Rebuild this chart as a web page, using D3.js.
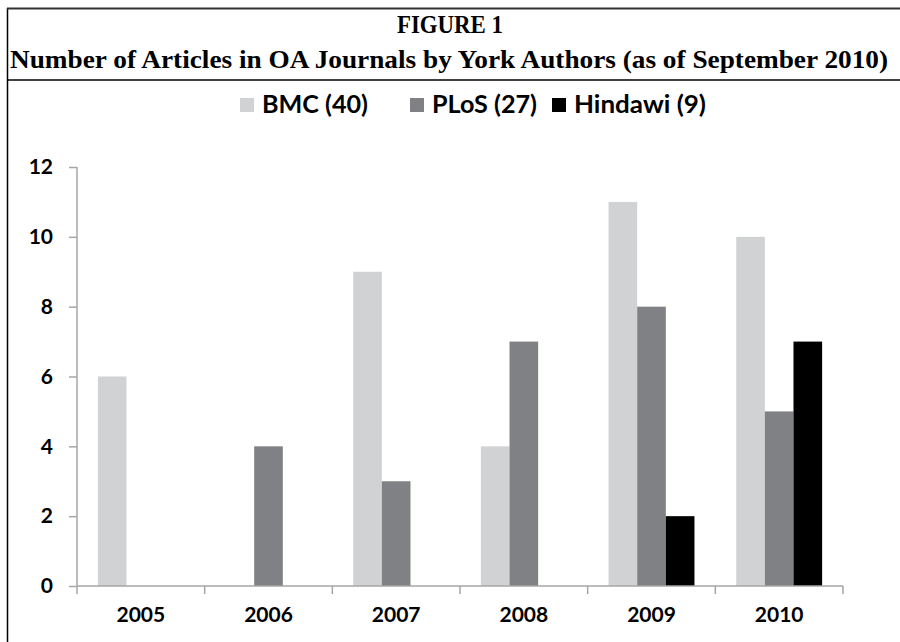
<!DOCTYPE html>
<html>
<head>
<meta charset="utf-8">
<script src="https://cdn.jsdelivr.net/npm/d3@7"></script>
<style>
  body { margin: 0; background: #fff; }
  svg { display: block; }
</style>
</head>
<body>
<script>
// chart data
const years = ["2005", "2006", "2007", "2008", "2009", "2010"];
const seriesNames = ["BMC (40)", "PLoS (27)", "Hindawi (9)"];
const bmc = [6, 0, 9, 4, 11, 10];
const plos = [0, 4, 3, 7, 8, 5];
const hindawi = [0, 0, 0, 0, 2, 7];
const yTicks = [0, 2, 4, 6, 8, 10, 12];

const width = 900;
const height = 642;
const colors = ["#d1d2d4", "#808184", "#000000"];
const axisColor = "#a6a6a6";
const sans = "Lato, 'Open Sans', sans-serif";
const serif = "'Liberation Serif', 'Times New Roman', serif";

let svg = d3.select("body")
  .append("svg")
  .attr("width", width)
  .attr("height", height);

// frame
svg.append("line")
  .attr("x1", 7.5).attr("x2", 7.5)
  .attr("y1", 8).attr("y2", height)
  .attr("stroke", "#000").attr("stroke-width", 1.5);
svg.append("line")
  .attr("x1", 7).attr("x2", width)
  .attr("y1", 8.5).attr("y2", 8.5)
  .attr("stroke", "#333").attr("stroke-width", 2);
svg.append("line")
  .attr("x1", 7).attr("x2", width)
  .attr("y1", 80).attr("y2", 80)
  .attr("stroke", "#000").attr("stroke-width", 1.5);

// heading
svg.append("text")
  .attr("x", 450).attr("y", 33)
  .attr("text-anchor", "middle")
  .style("font-family", serif)
  .style("font-weight", "bold")
  .style("font-size", "25px")
  .attr("textLength", 106)
  .attr("lengthAdjust", "spacingAndGlyphs")
  .text("FIGURE 1");

svg.append("text")
  .attr("x", 449).attr("y", 68)
  .attr("text-anchor", "middle")
  .style("font-family", serif)
  .style("font-weight", "bold")
  .style("font-size", "26px")
  .attr("textLength", 878)
  .attr("lengthAdjust", "spacingAndGlyphs")
  .text("Number of Articles in OA Journals by York Authors (as of September 2010)");

// scales
let x0 = d3.scaleBand()
  .domain(years)
  .range([77, 843])
  .paddingInner(0.327)
  .paddingOuter(0.1635);

let x1 = d3.scaleBand()
  .domain(seriesNames)
  .range([0, x0.bandwidth()]);

let y = d3.scaleLinear()
  .domain([0, 12])
  .range([586, 167]);

// legend
let legendX = [240, 410, 552];
let legendW = [106, 105, 132];
let legend = svg.append("g").attr("class", "legend");
seriesNames.forEach((name, i) => {
  legend.append("rect")
    .attr("x", legendX[i]).attr("y", 98)
    .attr("width", 14).attr("height", 14)
    .attr("fill", colors[i]);
  legend.append("text")
    .attr("x", legendX[i] + 22).attr("y", 113)
    .style("font-family", sans)
    .style("font-weight", "bold")
    .style("font-size", "24px")
    .attr("textLength", legendW[i])
    .attr("lengthAdjust", "spacingAndGlyphs")
    .text(name);
});

// bars
let rows = years.map((yr, i) => ({
  year: yr,
  values: [bmc[i], plos[i], hindawi[i]]
}));

svg.append("g")
  .selectAll("g")
  .data(rows)
  .enter()
  .append("g")
  .attr("transform", (d) => "translate(" + x0(d.year) + ",0)")
  .selectAll("rect")
  .data((d) => d.values.map((v, j) => ({ name: seriesNames[j], value: v, color: colors[j] })))
  .enter()
  .append("rect")
  .attr("x", (d) => x1(d.name))
  .attr("y", (d) => y(d.value))
  .attr("width", x1.bandwidth())
  .attr("height", (d) => y(0) - y(d.value))
  .attr("fill", (d) => d.color);

// y axis
let yAxis = d3.axisLeft(y)
  .tickValues(yTicks)
  .tickSize(8)
  .tickPadding(16);

let gy = svg.append("g")
  .attr("transform", "translate(77,0)")
  .call(yAxis);
gy.select(".domain").attr("stroke", axisColor).attr("stroke-width", 1.5)
  .attr("d", "M0," + y(12) + "V" + y(0));
gy.selectAll(".tick line").attr("stroke", axisColor).attr("stroke-width", 1.5);
gy.selectAll(".tick text")
  .style("font-family", sans)
  .style("font-weight", "bold")
  .style("font-size", "21px")
  .attr("fill", "#000");

// x axis
let xAxis = d3.axisBottom(x0).tickSize(0).tickPadding(21);
let gx = svg.append("g")
  .attr("transform", "translate(0," + y(0) + ")")
  .call(xAxis);
gx.select(".domain").attr("stroke", axisColor).attr("stroke-width", 1.5)
  .attr("d", "M77,0H843");
gx.selectAll(".tick text")
  .style("font-family", sans)
  .style("font-weight", "bold")
  .style("font-size", "21px")
  .attr("fill", "#000");

// category boundary ticks
let bounds = years.map((yr) => x0(yr) - x0.step() * x0.paddingInner() / 2);
bounds.push(x0(years[years.length - 1]) + x0.bandwidth() + x0.step() * x0.paddingInner() / 2);
gx.selectAll(".bound")
  .data(bounds)
  .enter()
  .append("line")
  .attr("class", "bound")
  .attr("x1", (d) => d).attr("x2", (d) => d)
  .attr("y1", 0).attr("y2", 8)
  .attr("stroke", axisColor)
  .attr("stroke-width", 1.5);
</script>
</body>
</html>
